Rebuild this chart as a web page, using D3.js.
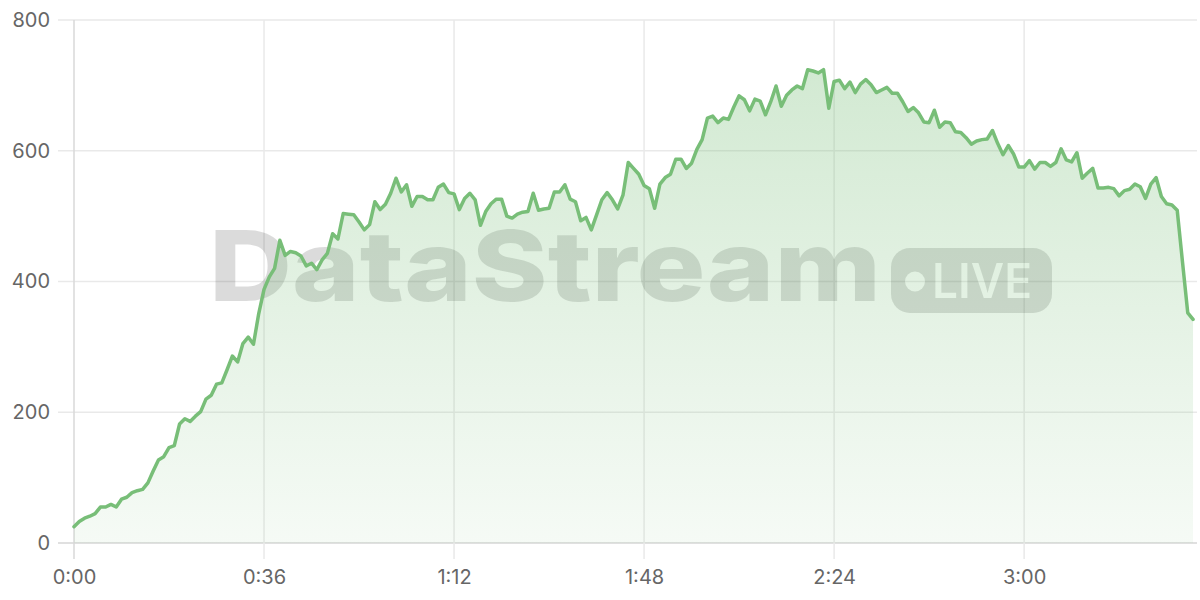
<!DOCTYPE html>
<html>
<head>
<meta charset="utf-8">
<script src="https://cdn.jsdelivr.net/npm/d3@7"></script>
<style>
  html, body { margin: 0; padding: 0; background: #fff; }
  svg { display: block; }
</style>
</head>
<body>
<svg id="chart" width="1200" height="600"></svg>
<script>
// ---- data (one sample per second) ----
const values = [
  25, 33, 38, 41, 45, 55, 55, 59, 55, 67,
  70, 77, 80, 82, 92, 110, 127, 132, 146, 149,
  182, 190, 186, 194, 201, 220, 226, 243, 245, 265,
  286, 277, 305, 315, 304, 351, 388, 407, 420, 463,
  440, 446, 444, 439, 424, 428, 418, 433, 443, 473,
  465, 504, 503, 502, 491, 479, 487, 522, 510, 518,
  535, 558, 537, 548, 515, 530, 530, 525, 525, 544,
  549, 536, 534, 510, 527, 535, 525, 486, 507, 519,
  526, 526, 500, 497, 503, 506, 507, 535, 509, 511,
  512, 537, 537, 548, 526, 522, 493, 498, 479, 502,
  525, 536, 525, 511, 532, 582, 573, 564, 547, 542,
  512, 549, 559, 564, 587, 587, 573, 581, 602, 617,
  650, 653, 643, 650, 648, 667, 684, 678, 661, 679,
  676, 655, 675, 699, 668, 685, 693, 699, 695, 724,
  722, 719, 724, 665, 706, 708, 695, 705, 689, 702,
  709, 701, 689, 693, 697, 688, 688, 675, 660, 666,
  658, 644, 643, 662, 636, 644, 643, 629, 628, 620,
  610, 615, 617, 618, 631, 611, 594, 608, 595, 575,
  575, 585, 572, 582, 582, 576, 582, 603, 586, 583,
  597, 558, 566, 573, 543, 543, 544, 542, 531, 539,
  541, 549, 545, 527, 549, 559, 530, 519, 517, 509,
  430, 352, 342
];
const seconds = values.map((v, i) => i);
const xTicks = [0, 36, 72, 108, 144, 180];
const yTicks = [0, 200, 400, 600, 800];
const watermarkText = "DataStream";
const badgeText = "LIVE";

// ---- layout ----
const svg = d3.select("#chart");
const pLeft = 74, pRight = 1197, pTop = 20, pBottom = 543;

const x = d3.scaleLinear().domain([0, 212.75]).range([pLeft, pRight]);
const y = d3.scaleLinear().domain([0, 800]).range([pBottom, pTop]);

const fmt = s => Math.floor(s / 60) + ":" + String(s % 60).padStart(2, "0");

const defs = svg.append("defs");
const grad = defs.append("linearGradient")
  .attr("id", "fillGrad").attr("gradientUnits", "userSpaceOnUse")
  .attr("x1", 0).attr("y1", pTop).attr("x2", 0).attr("y2", pBottom);
grad.append("stop").attr("offset", 0).attr("stop-color", "rgb(120,190,120)").attr("stop-opacity", 0.36);
grad.append("stop").attr("offset", 1).attr("stop-color", "rgb(120,190,120)").attr("stop-opacity", 0.07);

// ---- grid ----
const grid = svg.append("g");
grid.selectAll("line.h").data(yTicks).join("line")
  .attr("x1", 58).attr("x2", pRight)
  .attr("y1", d => y(d)).attr("y2", d => y(d))
  .attr("stroke", d => d === 0 ? "#d6d6d6" : "#e9e9e9")
  .attr("stroke-width", 1.5);
grid.selectAll("line.v").data(xTicks).join("line")
  .attr("y1", pTop).attr("y2", 559)
  .attr("x1", d => x(d)).attr("x2", d => x(d))
  .attr("stroke", d => d === 0 ? "#d9d9d9" : "#e9e9e9")
  .attr("stroke-width", 1.5);

// ---- watermark ----
const wm = svg.append("g");
wm.append("text")
  .attr("x", 209).attr("y", 301)
  .attr("font-family", "Inter, 'Liberation Sans', sans-serif")
  .attr("font-weight", 800)
  .attr("font-size", 98)
  .attr("textLength", 672)
  .attr("lengthAdjust", "spacingAndGlyphs")
  .attr("fill", "rgba(0,0,0,0.14)")
  .text(watermarkText);

const mask = defs.append("mask").attr("id", "badgeMask")
  .attr("maskUnits", "userSpaceOnUse")
  .attr("x", 0).attr("y", 0).attr("width", 1200).attr("height", 600);
mask.append("rect").attr("x", 891).attr("y", 248).attr("width", 161).attr("height", 65)
  .attr("rx", 19).attr("fill", "#fff");
mask.append("circle").attr("cx", 915).attr("cy", 281.5).attr("r", 10).attr("fill", "#000");
mask.append("text")
  .attr("x", 932).attr("y", 298)
  .attr("font-family", "Inter, 'Liberation Sans', sans-serif")
  .attr("font-weight", 600)
  .attr("font-size", 48)
  .attr("textLength", 100)
  .attr("lengthAdjust", "spacingAndGlyphs")
  .attr("fill", "#000")
  .text(badgeText);
wm.append("rect").attr("x", 891).attr("y", 248).attr("width", 161).attr("height", 65)
  .attr("fill", "rgba(0,0,0,0.14)").attr("mask", "url(#badgeMask)");

// ---- area + line ----
const pts = seconds.map((s, i) => [s, values[i]]);
svg.append("path")
  .datum(pts)
  .attr("fill", "url(#fillGrad)")
  .attr("d", d3.area().x(d => x(d[0])).y0(pBottom).y1(d => y(d[1])));
svg.append("path")
  .datum(pts)
  .attr("fill", "none")
  .attr("stroke", "rgb(120,190,120)")
  .attr("stroke-width", 3.5)
  .attr("stroke-linejoin", "round")
  .attr("stroke-linecap", "round")
  .attr("d", d3.line().x(d => x(d[0])).y(d => y(d[1])));

// ---- axes labels ----
const yAxis = d3.axisLeft(y).tickValues(yTicks).tickSize(0).tickPadding(24);
const gy = svg.append("g").attr("transform", `translate(${pLeft},0)`).call(yAxis);
gy.select(".domain").remove();
gy.selectAll("text")
  .attr("font-family", "Inter, 'Noto Sans', sans-serif")
  .attr("font-size", 20).attr("fill", "#666");

const xAxis = d3.axisBottom(x).tickValues(xTicks).tickFormat(fmt).tickSize(0).tickPadding(27);
const gx = svg.append("g").attr("transform", `translate(0,${pBottom})`).call(xAxis);
gx.select(".domain").remove();
gx.selectAll("text")
  .attr("font-family", "Inter, 'Noto Sans', sans-serif")
  .attr("font-size", 20).attr("fill", "#666");
</script>
</body>
</html>
